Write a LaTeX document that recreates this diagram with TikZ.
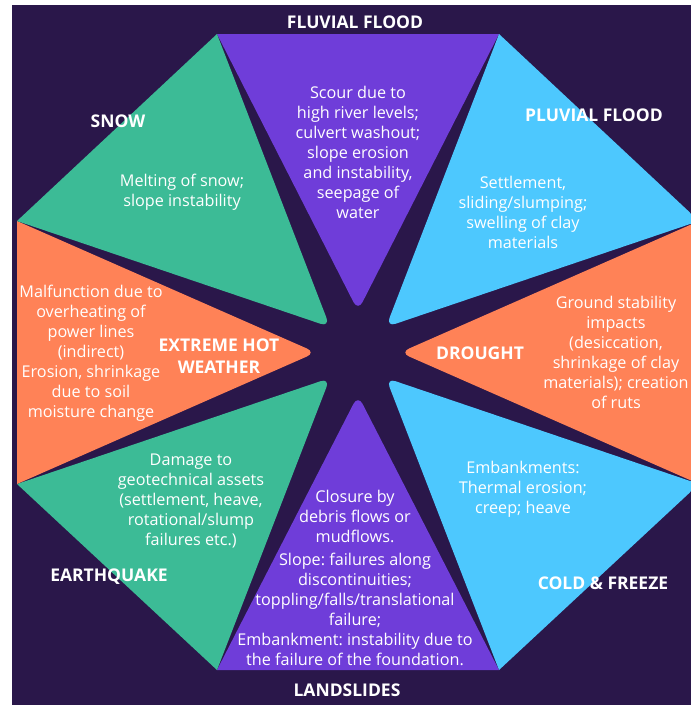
\documentclass[tikz,border=0pt]{standalone}
\usepackage{fontspec}
\setmainfont{Open Sans}
\usepackage{xcolor}
\usetikzlibrary{positioning,calc}
\frenchspacing

\definecolor{bgpurple}{HTML}{2A174A}
\definecolor{wpurple}{HTML}{6F3DD9}
\definecolor{wblue}{HTML}{4DC8FE}
\definecolor{worange}{HTML}{FF8257}
\definecolor{wgreen}{HTML}{3CBB96}

\tikzset{
    hazard/.style={text=white, align=center, inner sep=0pt,
        font=\fontsize{17.5}{22}\selectfont\bfseries},
    impact/.style={text=white, align=center, inner sep=0pt,
        font=\fontsize{16.2}{20}\selectfont},
    tipround/.style={rounded corners=10pt}
}

\begin{document}
\begin{tikzpicture}[x=1pt, y=-1pt]
        \useasboundingbox (0,0) rectangle (691,705);
        \clip (0,0) rectangle (691,705);
        \fill[bgpurple] (12,5) rectangle (691,705);

        % octagon corners
        \coordinate (o1) at (217,34);
        \coordinate (o2) at (499,34);
        \coordinate (o3) at (699,221);
        \coordinate (o4) at (699,484);
        \coordinate (o5) at (499,670);
        \coordinate (o6) at (217,670);
        \coordinate (o7) at (17,484);
        \coordinate (o8) at (17,221);

        % inner tips
        \coordinate (t1) at (358,311);
        \coordinate (t2) at (386,327);
        \coordinate (t3) at (400,352.5);
        \coordinate (t4) at (386,378);
        \coordinate (t5) at (358,395);
        \coordinate (t6) at (330,378);
        \coordinate (t7) at (316,352.5);
        \coordinate (t8) at (330,327);

        % wedges, cut back to the octagon so only the tips are round
        \begin{scope}
        \clip (o1) -- (o2) -- (o3) -- (o4) -- (o5) -- (o6) -- (o7) -- (o8) -- cycle;
        \fill[wpurple, tipround] ($(t1)!2!(o1)$) -- (t1) -- ($(t1)!2!(o2)$) -- cycle;
        \fill[wblue, tipround] ($(t2)!2!(o2)$) -- (t2) -- ($(t2)!2!(o3)$) -- cycle;
        \fill[worange, tipround] ($(t3)!2!(o3)$) -- (t3) -- ($(t3)!2!(o4)$) -- cycle;
        \fill[wblue, tipround] ($(t4)!2!(o4)$) -- (t4) -- ($(t4)!2!(o5)$) -- cycle;
        \fill[wpurple, tipround] ($(t5)!2!(o5)$) -- (t5) -- ($(t5)!2!(o6)$) -- cycle;
        \fill[wgreen, tipround] ($(t6)!2!(o6)$) -- (t6) -- ($(t6)!2!(o7)$) -- cycle;
        \fill[worange, tipround] ($(t7)!2!(o7)$) -- (t7) -- ($(t7)!2!(o8)$) -- cycle;
        \fill[wgreen, tipround] ($(t8)!2!(o8)$) -- (t8) -- ($(t8)!2!(o1)$) -- cycle;
        \end{scope}

        \node (fluvial) [hazard] at (355,22) {FLUVIAL FLOOD};
        \node (pluvial) [hazard] at (594,115) {PLUVIAL FLOOD};
        \node (drought) [hazard] at (480,353) {DROUGHT};
        \node (cold) [hazard] at (603,583) {COLD \& FREEZE};
        \node (slides) [hazard] at (347,690) {LANDSLIDES};
        \node (quake) [hazard] at (109,577) {EARTHQUAKE};
        \node (hot) [hazard] at (219,356) {EXTREME HOT\\WEATHER};
        \node (snow) [hazard] at (118,121) {SNOW};

        \node (fluvialtxt) [impact] at (358,152) {Scour due to\\high river levels;\\culvert washout;\\slope erosion\\and instability,\\seepage of\\water};
        \node (pluvialtxt) [impact] at (523,212) {Settlement,\\sliding/slumping;\\swelling of clay\\materials};
        \node (droughttxt) [impact] at (616,352) {Ground stability\\impacts\\(desiccation,\\shrinkage of clay\\materials); creation\\of ruts};
        \node (coldtxt) [impact] at (523,489) {Embankments:\\Thermal erosion;\\creep; heave};
        \node (slidestxt) [impact] at (355,578) {Closure by\\debris flows or\\mudflows.\\[3pt]Slope: failures along\\discontinuities;\\toppling/falls/translational\\failure;\\Embankment: instability due to\\the failure of the foundation.};
        \node (quaketxt) [impact] at (191,501) {Damage to\\geotechnical assets\\(settlement, heave,\\rotational/slump\\failures etc.)};
        \node (hottxt) [impact] at (91,353) {Malfunction due to\\overheating of\\power lines\\(indirect)\\Erosion, shrinkage\\due to soil\\moisture change};
        \node (snowtxt) [impact] at (182,192) {Melting of snow;\\slope instability};

    \end{tikzpicture}
\end{document}
